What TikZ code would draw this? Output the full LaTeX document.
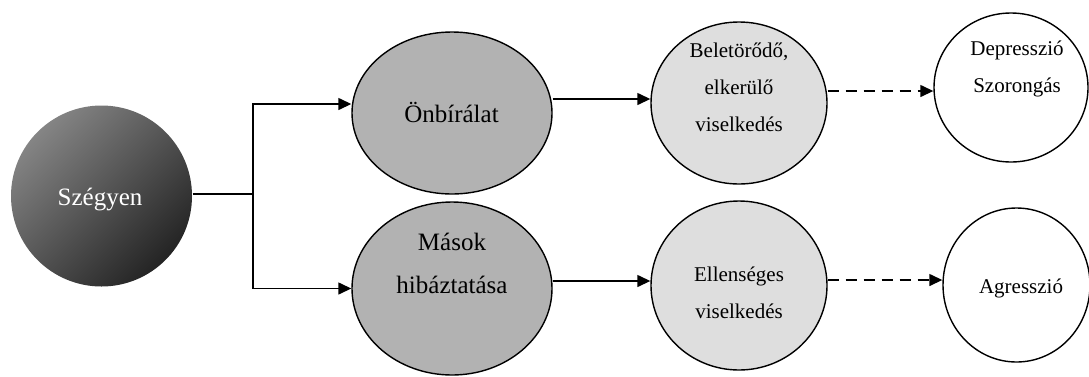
\documentclass[tikz,border=0pt]{standalone}
\usepackage{fontspec}
\setmainfont{Liberation Serif}
\usetikzlibrary{shapes.geometric, arrows.meta}

\begin{document}
\begin{tikzpicture}[x=1pt, y=-1pt, line width=1.4pt,
    cause/.style={ellipse, draw, fill=black!30, inner sep=0pt, minimum width=200pt},
    coping/.style={ellipse, draw, fill=black!13, inner sep=0pt, minimum width=176pt},
    outcome/.style={ellipse, draw, fill=white, inner sep=0pt},
    bigtxt/.style={align=center, anchor=base, font=\fontsize{25}{43}\selectfont},
    smalltxt/.style={align=center, anchor=base, font=\fontsize{21}{36.5}\selectfont},
    arr/.style={-{Triangle[length=13pt, width=12pt]}}]
    \useasboundingbox (0,0) rectangle (1089,376);
    \clip (0,0) rectangle (1089,376);

    % shapes
    \node[circle, minimum size=181pt, top color=black!48, bottom color=black!86,
        shading angle=45] (szegyen) at (101.5,196) {};
    \node[cause, minimum height=162pt] (onb) at (452,113) {};
    \node[cause, minimum height=173pt] (masok) at (452,288.5) {};
    \node[coping, minimum height=162pt] (belet) at (739,103) {};
    \node[coping, minimum height=169pt] (ellen) at (739,285.5) {};
    \node[outcome, minimum width=154pt, minimum height=149pt] (depr) at (1011,87.5) {};
    \node[outcome, minimum width=147pt, minimum height=154pt] (agr) at (1016.5,285) {};

    % texts (base = last line)
    \node[bigtxt, text=white] (szegyentxt) at (100,205) {Szégyen};
    \node[bigtxt] (onbtxt) at (451.5,122) {Önbírálat};
    \node[bigtxt] (masoktxt) at (452,293) {Mások\\hibáztatása};
    \node[smalltxt, font=\fontsize{21}{37}\selectfont] (belettxt) at (739,131)
        {Beletörődő,\\elkerülő\\viselkedés};
    \node[smalltxt] (ellentxt) at (739,318) {Ellenséges\\viselkedés};
    \node[smalltxt] (deprtxt) at (1017,92) {Depresszió\\Szorongás};
    \node[smalltxt] (agrtxt) at (1021,293) {Agresszió};

    % connectors
    \coordinate (split) at (253,194);
    \draw (szegyen.east |- split) -- (split);
    \draw[arr] (split) |- ([yshift=9pt]onb.west);
    \draw[arr] (split) |- (masok.west);
    \draw[arr] ([yshift=4pt]onb.east |- belet.west) -- ([yshift=4pt]belet.west);
    \draw[arr] ([yshift=4.5pt]masok.east |- ellen.west) -- ([yshift=4.5pt]ellen.west);
    \begin{scope}[dash pattern=on 11pt off 7pt]
        \draw[arr] ([yshift=-3.5pt]belet.east |- depr.west) -- ([yshift=-3.5pt]depr.west);
        \draw[arr] ([yshift=5pt]ellen.east |- agr.west) -- ([yshift=5pt]agr.west);
    \end{scope}
\end{tikzpicture}
\end{document}
